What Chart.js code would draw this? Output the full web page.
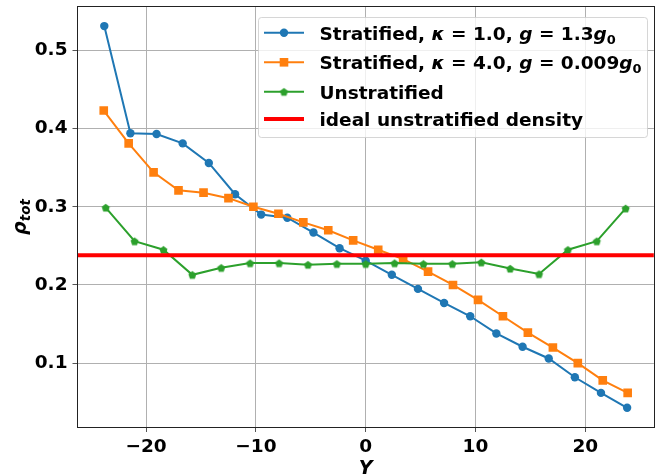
<!DOCTYPE html>
<html>
<head>
<meta charset="utf-8">
<script src="https://cdn.jsdelivr.net/npm/chart.js@4/dist/chart.umd.min.js"></script>
<style>
  body { margin: 0; background: #fff; }
  canvas { display: block; }
</style>
</head>
<body>
<canvas id="densityChart" width="660" height="476"></canvas>
<script>
// positions along Y (cell centres) and total density for each run
const xKappa1 = [-23.81, -21.43, -19.05, -16.67, -14.29, -11.90, -9.52, -7.14, -4.76, -2.38, 0,
                 2.38, 4.76, 7.14, 9.52, 11.90, 14.29, 16.67, 19.05, 21.43, 23.81];
const rhoKappa1 = [0.531, 0.394, 0.393, 0.381, 0.356, 0.316, 0.290, 0.286, 0.267, 0.247, 0.231,
                   0.213, 0.195, 0.177, 0.160, 0.138, 0.121, 0.106, 0.082, 0.062, 0.043];

const xKappa4 = [-23.86, -21.59, -19.32, -17.05, -14.77, -12.50, -10.23, -7.95, -5.68, -3.41, -1.14,
                 1.14, 3.41, 5.68, 7.95, 10.23, 12.50, 14.77, 17.05, 19.32, 21.59, 23.86];
const rhoKappa4 = [0.423, 0.381, 0.344, 0.321, 0.318, 0.311, 0.300, 0.291, 0.280, 0.270, 0.257,
                   0.245, 0.233, 0.217, 0.200, 0.181, 0.160, 0.139, 0.120, 0.100, 0.078, 0.062];

const xUnstrat = [-23.68, -21.05, -18.42, -15.79, -13.16, -10.53, -7.89, -5.26, -2.63, 0,
                  2.63, 5.26, 7.89, 10.53, 13.16, 15.79, 18.42, 21.05, 23.68];
const rhoUnstrat = [0.299, 0.256, 0.245, 0.213, 0.222, 0.228, 0.228, 0.226, 0.227, 0.227,
                    0.228, 0.227, 0.227, 0.229, 0.221, 0.214, 0.245, 0.256, 0.298];

const idealDensity = 0.238;

const xLimits = [-26.25, 26.25];
const yLimits = [0.0184, 0.5554];
const xTickStep = 10;
const yTickStep = 0.1;

// legend labels: [text, style] pieces ('b' bold, 'bi' bold italic, 'sub' subscript)
const legendLabels = [
  [['Stratified, ', 'b'], ['\u03ba', 'bi'], [' = 1.0, ', 'b'], ['g', 'bi'], [' = 1.3', 'b'], ['g', 'bi'], ['0', 'sub']],
  [['Stratified, ', 'b'], ['\u03ba', 'bi'], [' = 4.0, ', 'b'], ['g', 'bi'], [' = 0.009', 'b'], ['g', 'bi'], ['0', 'sub']],
  [['Unstratified', 'b']],
  [['ideal unstratified density', 'b']]
];

const BLUE = '#1f77b4', ORANGE = '#ff7f0e', GREEN = '#2ca02c', RED = '#ff0000';
const FONT = '"DejaVu Sans", sans-serif';
const FS = 18.5;

function pairs(xs, ys) {
  return xs.map((x, i) => ({ x: x, y: ys[i] }));
}

function makePentagon(r, color) {
  const c = document.createElement('canvas');
  const s = Math.ceil(2 * r + 2);
  c.width = s; c.height = s;
  const g = c.getContext('2d');
  g.beginPath();
  for (let i = 0; i < 5; i++) {
    const a = -Math.PI / 2 + i * 2 * Math.PI / 5;
    g.lineTo(s / 2 + r * Math.cos(a), s / 2 + 0.5 + r * Math.sin(a));
  }
  g.closePath();
  g.fillStyle = color;
  g.fill();
  return c;
}
const pentagon = makePentagon(4.2, GREEN);

function drawRich(ctx, x, y, pieces) {
  ctx.textBaseline = 'alphabetic';
  ctx.textAlign = 'left';
  pieces.forEach(([text, style]) => {
    let dy = 0;
    if (style === 'bi') ctx.font = 'italic bold ' + FS + 'px ' + FONT;
    else if (style === 'sub') { ctx.font = 'bold ' + (FS * 0.7) + 'px ' + FONT; dy = FS * 0.22; }
    else ctx.font = 'bold ' + FS + 'px ' + FONT;
    ctx.fillText(text, x, y + dy);
    x += ctx.measureText(text).width;
  });
}

const framePlugin = {
  id: 'frame',
  afterDatasetsDraw(chart) {
    const { ctx, chartArea: a } = chart;
    ctx.save();
    ctx.strokeStyle = '#222';
    ctx.lineWidth = 1;
    ctx.strokeRect(Math.round(a.left) - 0.5, Math.round(a.top) - 0.5,
                   Math.round(a.right - a.left) + 1, Math.round(a.bottom - a.top) + 1);

    // legend
    const bx = 258, by = 17, bw = 389, bh = 120;
    ctx.beginPath();
    ctx.roundRect(bx + 0.5, by + 0.5, bw, bh, 3);
    ctx.fillStyle = 'rgba(255,255,255,0.8)';
    ctx.fill();
    ctx.strokeStyle = 'rgba(204,204,204,0.8)';
    ctx.stroke();

    const rows = [32.7, 62.3, 91.7, 119];
    const colors = [BLUE, ORANGE, GREEN, RED];
    rows.forEach((ry, i) => {
      ctx.strokeStyle = colors[i];
      ctx.lineWidth = i === 3 ? 4 : 2;
      ctx.beginPath();
      ctx.moveTo(264, ry);
      ctx.lineTo(304, ry);
      ctx.stroke();
      ctx.fillStyle = colors[i];
      if (i === 0) {
        ctx.beginPath();
        ctx.arc(284, ry, 4.2, 0, Math.PI * 2);
        ctx.fill();
      } else if (i === 1) {
        ctx.fillRect(284 - 4.3, ry - 4.3, 8.6, 8.6);
      } else if (i === 2) {
        ctx.drawImage(pentagon, 284 - pentagon.width / 2, ry - pentagon.height / 2);
      }
      ctx.fillStyle = '#000';
      drawRich(ctx, 319.5, ry + 6.8, legendLabels[i]);
    });
    ctx.restore();
  },
  afterDraw(chart) {
    const { ctx, chartArea: a } = chart;
    ctx.save();
    ctx.fillStyle = '#000';
    ctx.font = 'italic bold 19px ' + FONT;
    ctx.textAlign = 'center';
    ctx.textBaseline = 'alphabetic';
    ctx.fillText('Y', (a.left + a.right) / 2, 474);

    // rho_tot, rotated
    ctx.translate(26, (a.top + a.bottom) / 2);
    ctx.rotate(-Math.PI / 2);
    ctx.textAlign = 'left';
    ctx.font = 'italic bold 19px ' + FONT;
    const w1 = ctx.measureText('\u03c1').width;
    ctx.font = 'italic bold 13.5px ' + FONT;
    const w2 = ctx.measureText('tot').width;
    const x0 = -(w1 + w2) / 2;
    ctx.font = 'italic bold 19px ' + FONT;
    ctx.fillText('\u03c1', x0, 0);
    ctx.font = 'italic bold 13.5px ' + FONT;
    ctx.fillText('tot', x0 + w1, 4);
    ctx.restore();
  }
};

const minusFmt = v => (v < 0 ? '\u2212' + Math.abs(v) : String(v));

new Chart(document.getElementById('densityChart'), {
  type: 'line',
  data: {
    datasets: [
      {
        data: pairs(xKappa1, rhoKappa1),
        borderColor: BLUE, backgroundColor: BLUE,
        borderWidth: 2, pointStyle: 'circle', pointRadius: 4.2,
        pointBorderWidth: 0, order: 4
      },
      {
        data: pairs(xKappa4, rhoKappa4),
        borderColor: ORANGE, backgroundColor: ORANGE,
        borderWidth: 2, pointStyle: 'rect', pointRadius: 6.1,
        pointBorderWidth: 0, order: 3
      },
      {
        data: pairs(xUnstrat, rhoUnstrat),
        borderColor: GREEN, backgroundColor: GREEN,
        borderWidth: 2, pointStyle: pentagon, pointRadius: 4.2,
        pointBorderWidth: 0, order: 2
      },
      {
        data: pairs(xLimits, [idealDensity, idealDensity]),
        borderColor: RED, backgroundColor: RED,
        borderWidth: 4, pointRadius: 0, order: 1
      }
    ]
  },
  options: {
    responsive: false,
    animation: false,
    devicePixelRatio: 1,
    layout: { padding: { top: 7, right: 4, left: 0, bottom: 0 } },
    plugins: { legend: { display: false }, tooltip: { enabled: false } },
    elements: { line: { tension: 0 } },
    scales: {
      x: {
        type: 'linear',
        min: xLimits[0], max: xLimits[1],
        afterFit: s => { s.height = 49; },
        border: { display: false },
        grid: { color: '#b0b0b0', lineWidth: 1, tickLength: 5, tickColor: '#555' },
        ticks: {
          stepSize: xTickStep, includeBounds: false, padding: 4,
          color: '#000', maxRotation: 0,
          font: { family: FONT, size: FS, weight: 'bold' },
          callback: v => minusFmt(v)
        }
      },
      y: {
        type: 'linear',
        min: yLimits[0], max: yLimits[1],
        afterFit: s => { s.width = 77.5; },
        border: { display: false },
        grid: { color: '#b0b0b0', lineWidth: 1, tickLength: 5, tickColor: '#555' },
        ticks: {
          stepSize: yTickStep, includeBounds: false, padding: 5,
          color: '#000',
          font: { family: FONT, size: FS, weight: 'bold', lineHeight: 0.2 },
          callback: v => v.toFixed(1)
        }
      }
    }
  },
  plugins: [framePlugin]
});
</script>
</body>
</html>
